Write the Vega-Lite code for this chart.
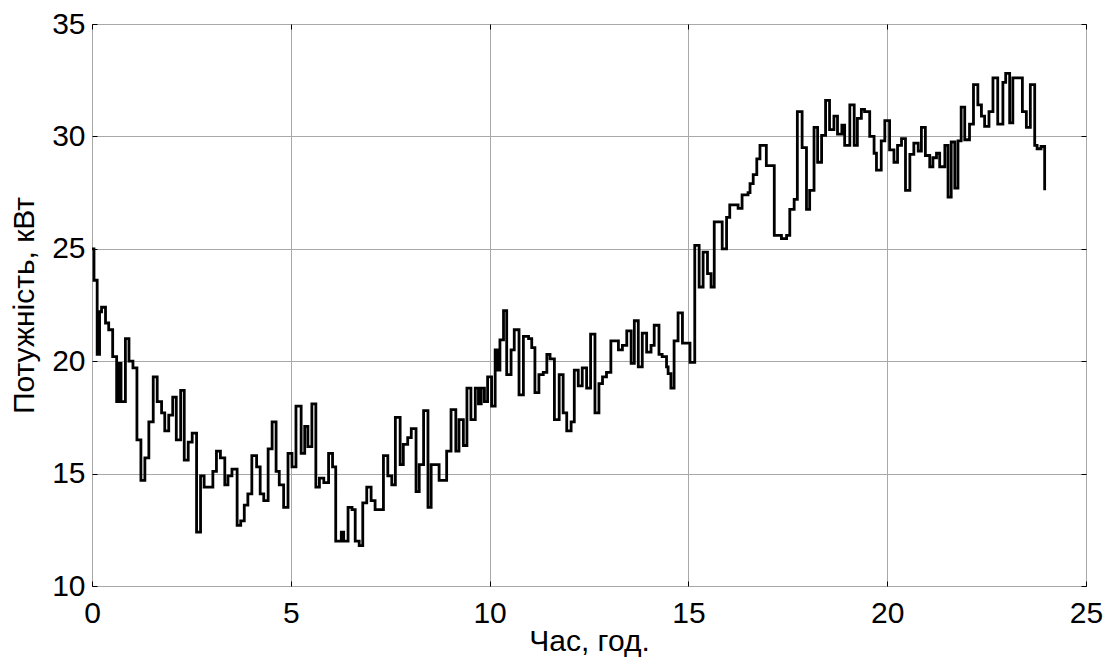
{
  "$schema": "https://vega.github.io/schema/vega-lite/v6.json",
  "width": 994,
  "height": 562,
  "padding": {"left": 92, "top": 24, "right": 23, "bottom": 74},
  "autosize": {"type": "none"},
  "background": "white",
  "config": {
    "view": {"stroke": "black", "strokeWidth": 1},
    "font": "Liberation Sans",
    "axis": {
      "labelFont": "Liberation Sans",
      "titleFont": "Liberation Sans",
      "labelFontSize": 30,
      "titleFontSize": 30,
      "titleFontWeight": "normal",
      "labelColor": "black",
      "titleColor": "black",
      "labelFlush": false,
      "labelOverlap": false,
      "domain": false,
      "gridColor": "#a8a8a8",
      "gridWidth": 1,
      "tickColor": "black",
      "tickSize": -5,
      "tickWidth": 1
    }
  },
  "data": {
    "values": [
      {"t": 0, "p": 25.0}, {"t": 0.05, "p": 23.6}, {"t": 0.13, "p": 20.3}, {"t": 0.19, "p": 22.2},
      {"t": 0.24, "p": 22.4}, {"t": 0.34, "p": 21.7}, {"t": 0.42, "p": 21.4}, {"t": 0.52, "p": 20.2},
      {"t": 0.62, "p": 18.2}, {"t": 0.67, "p": 19.9}, {"t": 0.73, "p": 18.2}, {"t": 0.84, "p": 21.0},
      {"t": 0.93, "p": 20.0}, {"t": 1.03, "p": 19.7}, {"t": 1.13, "p": 16.5}, {"t": 1.23, "p": 14.7},
      {"t": 1.33, "p": 15.7}, {"t": 1.43, "p": 17.3}, {"t": 1.54, "p": 19.3}, {"t": 1.64, "p": 18.2},
      {"t": 1.75, "p": 17.7}, {"t": 1.83, "p": 16.9}, {"t": 1.93, "p": 17.6}, {"t": 2.03, "p": 18.4},
      {"t": 2.12, "p": 16.5}, {"t": 2.23, "p": 18.7}, {"t": 2.32, "p": 15.6}, {"t": 2.42, "p": 16.4},
      {"t": 2.52, "p": 16.8}, {"t": 2.63, "p": 12.4}, {"t": 2.73, "p": 14.9}, {"t": 2.82, "p": 14.4},
      {"t": 3.04, "p": 15.1}, {"t": 3.13, "p": 16.0}, {"t": 3.23, "p": 15.7}, {"t": 3.34, "p": 14.5},
      {"t": 3.42, "p": 14.9}, {"t": 3.52, "p": 15.2}, {"t": 3.65, "p": 12.7}, {"t": 3.74, "p": 12.9},
      {"t": 3.83, "p": 13.6}, {"t": 3.92, "p": 14.1}, {"t": 4.02, "p": 15.8}, {"t": 4.14, "p": 15.3},
      {"t": 4.23, "p": 14.1}, {"t": 4.32, "p": 13.8}, {"t": 4.43, "p": 16.1}, {"t": 4.53, "p": 17.3},
      {"t": 4.63, "p": 15.1}, {"t": 4.71, "p": 14.5}, {"t": 4.82, "p": 13.5}, {"t": 4.93, "p": 15.9},
      {"t": 5.03, "p": 15.3}, {"t": 5.13, "p": 18.0}, {"t": 5.26, "p": 15.9}, {"t": 5.35, "p": 17.1},
      {"t": 5.43, "p": 16.2}, {"t": 5.53, "p": 18.1}, {"t": 5.63, "p": 14.4}, {"t": 5.72, "p": 14.8},
      {"t": 5.83, "p": 14.6}, {"t": 5.95, "p": 15.9}, {"t": 6.05, "p": 15.3}, {"t": 6.13, "p": 12.0},
      {"t": 6.27, "p": 12.4}, {"t": 6.33, "p": 12.0}, {"t": 6.44, "p": 13.5}, {"t": 6.54, "p": 13.4},
      {"t": 6.62, "p": 12.0}, {"t": 6.72, "p": 11.8}, {"t": 6.81, "p": 13.7}, {"t": 6.91, "p": 14.4},
      {"t": 7.02, "p": 13.8}, {"t": 7.12, "p": 13.4}, {"t": 7.33, "p": 15.8}, {"t": 7.44, "p": 14.9},
      {"t": 7.54, "p": 14.5}, {"t": 7.63, "p": 17.5}, {"t": 7.75, "p": 15.4}, {"t": 7.83, "p": 16.3},
      {"t": 7.94, "p": 16.6}, {"t": 8.03, "p": 17.0}, {"t": 8.15, "p": 14.2}, {"t": 8.23, "p": 15.4},
      {"t": 8.34, "p": 17.8}, {"t": 8.45, "p": 13.5}, {"t": 8.53, "p": 15.4}, {"t": 8.73, "p": 14.7},
      {"t": 8.92, "p": 16.0}, {"t": 9.03, "p": 17.85}, {"t": 9.15, "p": 16.0}, {"t": 9.23, "p": 17.4},
      {"t": 9.34, "p": 16.25}, {"t": 9.43, "p": 18.8}, {"t": 9.53, "p": 17.4}, {"t": 9.64, "p": 18.8},
      {"t": 9.72, "p": 18.1}, {"t": 9.79, "p": 18.8}, {"t": 9.87, "p": 18.2}, {"t": 9.95, "p": 19.3},
      {"t": 10.05, "p": 18.0}, {"t": 10.14, "p": 20.5}, {"t": 10.2, "p": 19.6}, {"t": 10.26, "p": 20.95},
      {"t": 10.35, "p": 22.25}, {"t": 10.43, "p": 19.4}, {"t": 10.54, "p": 20.5}, {"t": 10.62, "p": 21.4},
      {"t": 10.74, "p": 18.5}, {"t": 10.85, "p": 21.1}, {"t": 10.98, "p": 21.0}, {"t": 11.06, "p": 20.6},
      {"t": 11.14, "p": 18.6}, {"t": 11.24, "p": 19.4}, {"t": 11.35, "p": 19.5}, {"t": 11.44, "p": 20.3},
      {"t": 11.52, "p": 20.1}, {"t": 11.63, "p": 17.4}, {"t": 11.75, "p": 19.4}, {"t": 11.85, "p": 17.7},
      {"t": 11.94, "p": 16.9}, {"t": 12.05, "p": 17.3}, {"t": 12.13, "p": 19.6}, {"t": 12.23, "p": 18.9},
      {"t": 12.33, "p": 19.7}, {"t": 12.44, "p": 18.8}, {"t": 12.54, "p": 21.2}, {"t": 12.65, "p": 17.7},
      {"t": 12.75, "p": 19.0}, {"t": 12.84, "p": 19.3}, {"t": 12.94, "p": 19.5}, {"t": 13.05, "p": 20.9},
      {"t": 13.24, "p": 20.5}, {"t": 13.34, "p": 20.7}, {"t": 13.45, "p": 21.35}, {"t": 13.56, "p": 19.9},
      {"t": 13.64, "p": 21.8}, {"t": 13.74, "p": 19.75}, {"t": 13.84, "p": 21.25}, {"t": 13.95, "p": 20.4},
      {"t": 14.06, "p": 20.7}, {"t": 14.14, "p": 21.6}, {"t": 14.26, "p": 20.3}, {"t": 14.34, "p": 20.2},
      {"t": 14.45, "p": 19.75}, {"t": 14.49, "p": 19.45}, {"t": 14.56, "p": 18.8}, {"t": 14.64, "p": 20.9},
      {"t": 14.74, "p": 22.15}, {"t": 14.85, "p": 20.8}, {"t": 15.04, "p": 19.95}, {"t": 15.16, "p": 25.15},
      {"t": 15.27, "p": 23.3}, {"t": 15.37, "p": 24.85}, {"t": 15.48, "p": 23.9}, {"t": 15.57, "p": 23.3},
      {"t": 15.65, "p": 26.2}, {"t": 15.85, "p": 25.0}, {"t": 15.96, "p": 26.4}, {"t": 16.04, "p": 26.95},
      {"t": 16.25, "p": 26.8}, {"t": 16.35, "p": 27.4}, {"t": 16.5, "p": 27.5}, {"t": 16.55, "p": 27.9},
      {"t": 16.63, "p": 28.3}, {"t": 16.72, "p": 29.0}, {"t": 16.8, "p": 29.6}, {"t": 16.96, "p": 28.7},
      {"t": 17.16, "p": 25.6}, {"t": 17.34, "p": 25.45}, {"t": 17.47, "p": 25.6}, {"t": 17.55, "p": 26.75},
      {"t": 17.66, "p": 27.2}, {"t": 17.74, "p": 31.1}, {"t": 17.86, "p": 29.5}, {"t": 17.97, "p": 26.75},
      {"t": 18.05, "p": 27.6}, {"t": 18.16, "p": 30.4}, {"t": 18.25, "p": 28.85}, {"t": 18.35, "p": 30.05},
      {"t": 18.45, "p": 31.6}, {"t": 18.55, "p": 30.3}, {"t": 18.66, "p": 30.9}, {"t": 18.75, "p": 30.1},
      {"t": 18.86, "p": 30.5}, {"t": 18.93, "p": 29.6}, {"t": 19.06, "p": 31.4}, {"t": 19.17, "p": 29.6},
      {"t": 19.25, "p": 30.8}, {"t": 19.35, "p": 31.2}, {"t": 19.43, "p": 31.1}, {"t": 19.56, "p": 30.0},
      {"t": 19.67, "p": 29.25}, {"t": 19.73, "p": 28.5}, {"t": 19.85, "p": 29.8}, {"t": 19.94, "p": 30.7},
      {"t": 20.06, "p": 29.4}, {"t": 20.17, "p": 28.85}, {"t": 20.26, "p": 29.6}, {"t": 20.36, "p": 29.9},
      {"t": 20.46, "p": 27.6}, {"t": 20.57, "p": 29.2}, {"t": 20.67, "p": 29.7}, {"t": 20.78, "p": 29.35},
      {"t": 20.86, "p": 30.4}, {"t": 20.96, "p": 29.15}, {"t": 21.07, "p": 28.65}, {"t": 21.15, "p": 29.05},
      {"t": 21.24, "p": 29.25}, {"t": 21.32, "p": 28.65}, {"t": 21.45, "p": 29.6}, {"t": 21.53, "p": 27.3},
      {"t": 21.61, "p": 29.75}, {"t": 21.7, "p": 27.7}, {"t": 21.78, "p": 29.8}, {"t": 21.86, "p": 31.3},
      {"t": 21.95, "p": 29.85}, {"t": 22.07, "p": 30.55}, {"t": 22.17, "p": 32.3}, {"t": 22.28, "p": 31.4},
      {"t": 22.37, "p": 30.9}, {"t": 22.45, "p": 30.45}, {"t": 22.56, "p": 31.1}, {"t": 22.66, "p": 32.6},
      {"t": 22.78, "p": 30.55}, {"t": 22.91, "p": 32.4}, {"t": 22.98, "p": 32.8}, {"t": 23.08, "p": 30.6},
      {"t": 23.16, "p": 32.6}, {"t": 23.4, "p": 31.1}, {"t": 23.5, "p": 30.4}, {"t": 23.6, "p": 32.3},
      {"t": 23.71, "p": 29.6}, {"t": 23.77, "p": 29.45}, {"t": 23.87, "p": 29.55}, {"t": 23.96, "p": 27.6}
    ]
  },
  "layer": [
    {
      "mark": {"type": "line", "interpolate": "step-after", "color": "black", "strokeWidth": 2.8, "clip": true},
      "encoding": {
        "x": {
          "field": "t", "type": "quantitative",
          "scale": {"domain": [0, 25], "nice": false, "zero": false},
          "axis": {"orient": "bottom", "values": [0, 5, 10, 15, 20, 25], "title": "Час, год.", "labelPadding": 17, "titlePadding": -2, "grid": true}
        },
        "y": {
          "field": "p", "type": "quantitative",
          "scale": {"domain": [10, 35], "nice": false, "zero": false},
          "axis": {"orient": "left", "values": [10, 15, 20, 25, 30, 35], "title": "Потужність, кВт", "labelPadding": 12, "titlePadding": 12, "grid": true}
        }
      }
    },
    {
      "mark": {"type": "line", "opacity": 0},
      "encoding": {
        "x": {
          "field": "t", "type": "quantitative",
          "axis": {"orient": "top", "values": [0, 5, 10, 15, 20, 25], "labels": false, "title": null, "grid": false}
        },
        "y": {
          "field": "p", "type": "quantitative",
          "axis": {"orient": "right", "values": [10, 15, 20, 25, 30, 35], "labels": false, "title": null, "grid": false}
        }
      }
    }
  ],
  "resolve": {"axis": {"x": "independent", "y": "independent"}}
}
